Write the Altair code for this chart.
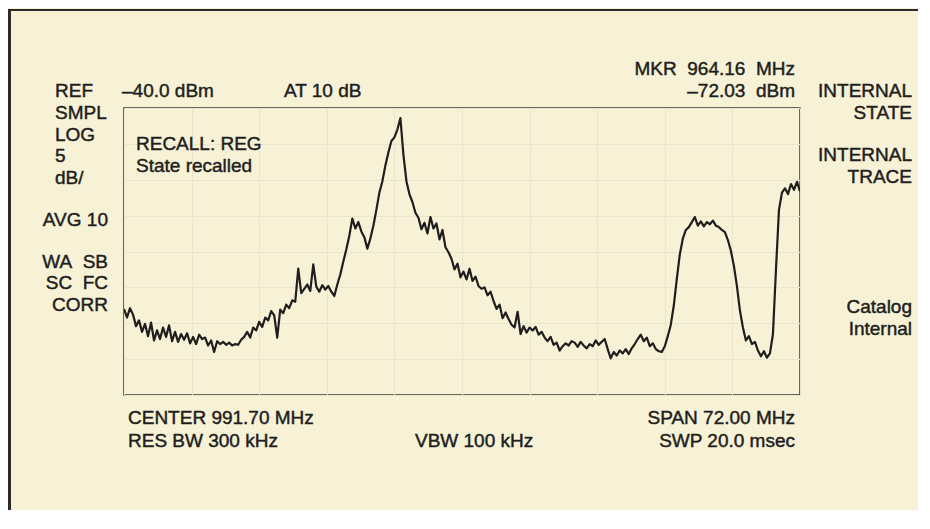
import altair as alt
import pandas as pd

# ---------------- instrument settings (from the screen) ----------------
CENTER_MHZ = 991.70
SPAN_MHZ = 72.00
REF_DBM = -40.0
DB_PER_DIV = 5
N_DIV_X = 10
N_DIV_Y = 8

# ---------------- trace (dBm), left to right ----------------
trace_dbm = [
    -68.0, -69.2, -67.9, -68.8, -70.4, -69.6, -71.2, -70.1, -71.8, -69.9,
    -72.4, -71.0, -72.2, -70.6, -71.9, -70.3, -72.5, -71.2, -72.6, -71.5,
    -72.3, -71.4, -72.8, -71.9, -72.9, -71.6, -72.2, -72.0, -73.1, -72.4,
    -74.0, -72.5, -72.9, -72.6, -73.0, -72.7, -73.1, -72.9, -73.0, -72.3,
    -71.9, -71.2, -72.0, -70.6, -71.0, -69.8, -70.5, -69.2, -69.6, -68.3,
    -68.9, -72.0, -68.1, -68.6, -67.4, -67.9, -66.8, -67.0, -62.4, -65.8,
    -65.2, -64.6, -65.5, -61.8, -64.9, -65.6, -64.7, -65.3, -64.8, -65.6,
    -66.2, -64.6, -63.2, -61.4, -59.7, -57.8, -55.4, -56.8, -55.9, -57.2,
    -58.0, -59.6, -58.2, -56.4, -54.2, -51.8, -50.2, -48.0, -46.2, -44.6,
    -44.1, -43.0, -41.4, -46.5, -50.2, -52.0, -53.1, -54.6, -55.3, -56.9,
    -56.0, -57.5, -55.2, -56.8, -56.1, -58.3, -57.0, -59.4, -60.1, -61.0,
    -62.5, -61.7, -63.6, -62.8, -63.9, -62.4, -64.1, -63.5, -64.8, -65.2,
    -65.0, -66.1, -65.6, -66.9, -68.0, -67.4, -69.3, -68.5, -69.4, -70.2,
    -70.6, -68.4, -71.5, -70.4, -71.3, -70.6, -71.0, -70.5, -71.6, -71.2,
    -72.0, -72.5, -71.9, -73.0, -72.7, -73.8, -73.2, -72.8, -73.1, -72.5,
    -72.7, -73.3, -72.6, -73.1, -73.5, -72.9, -73.2, -72.4, -73.0, -72.6,
    -72.2, -73.6, -74.9, -74.0, -74.5, -73.8, -74.2, -73.6, -74.3, -73.5,
    -72.9, -72.2, -71.6, -72.5, -72.0, -73.2, -72.8, -73.6, -73.9, -74.0,
    -73.2, -71.8, -70.2, -67.5, -63.8, -60.4, -58.2, -57.0, -56.6, -55.9,
    -55.2, -56.4, -55.8, -56.5, -55.9, -56.2, -55.7, -56.4, -56.6, -57.0,
    -57.3, -58.4, -59.9, -62.0, -64.8, -68.2, -70.6, -72.4, -71.8, -72.9,
    -72.6, -73.8, -74.6, -73.9, -74.8, -74.2, -71.5, -62.5, -54.2, -51.8,
    -51.2, -52.0, -50.6, -51.4, -50.3, -51.6,
]

# ---------------- screen annotations ----------------
left_upper = ["REF", "SMPL", "LOG", "5", "dB/"]
left_lower = ["AVG 10", "WA\u00a0 SB", "SC\u00a0 FC", "CORR"]
right_labels = ["INTERNAL", "STATE", "INTERNAL", "TRACE", "Catalog", "Internal"]
ref_text = "\u201340.0 dBm"
atten_text = "AT 10 dB"
marker_freq_text = "MKR\u00a0 964.16\u00a0 MHz"
marker_level_text = "\u201372.03\u00a0 dBm"
recall_texts = ["RECALL: REG", "State recalled"]
bottom_left = ["CENTER 991.70 MHz", "RES BW 300 kHz"]
bottom_mid = "VBW 100 kHz"
bottom_right = ["SPAN 72.00 MHz", "SWP 20.0 msec"]

# ---------------- derived data ----------------
start = CENTER_MHZ - SPAN_MHZ / 2
stop = CENTER_MHZ + SPAN_MHZ / 2
n = len(trace_dbm)
freqs = [start + i * SPAN_MHZ / (n - 1) for i in range(n)]
df = pd.DataFrame({"freq": freqs, "dbm": trace_dbm})
bottom_db = REF_DBM - DB_PER_DIV * N_DIV_Y
x_grid = [start + k * SPAN_MHZ / N_DIV_X for k in range(N_DIV_X + 1)]
y_grid = [REF_DBM - k * DB_PER_DIV for k in range(N_DIV_Y + 1)]

# ---------------- styling ----------------
BG = "#f7f2d6"
INK = "#1e1e1e"
GRID = "#ebe6cb"
FONT = "Liberation Sans"
FS = 19
W, H = 676, 287

one = pd.DataFrame({"k": [0]})


def label(txt, x, y, align="left"):
    return alt.Chart(one).mark_text(
        align=align, baseline="middle", font=FONT, fontSize=FS, color=INK,
        stroke=INK, strokeWidth=0.45
    ).encode(x=alt.value(x), y=alt.value(y), text=alt.value(txt))


axis_x = alt.Axis(values=x_grid, grid=True, gridColor=GRID, gridWidth=1,
                  labels=False, ticks=False, domain=False, title=None)
axis_y = alt.Axis(values=y_grid, grid=True, gridColor=GRID, gridWidth=1,
                  labels=False, ticks=False, domain=False, title=None)

trace = alt.Chart(df).mark_line(
    color=INK, strokeWidth=2.2, strokeJoin="round", clip=True
).encode(
    x=alt.X("freq:Q", scale=alt.Scale(domain=[start, stop], nice=False, zero=False), axis=axis_x),
    y=alt.Y("dbm:Q", scale=alt.Scale(domain=[bottom_db, REF_DBM], nice=False, zero=False), axis=axis_y),
)

layers = [trace]

# outer frame of the screen (thin filled bars)
layers.append(alt.Chart(one).mark_rect(color="#2a2a2a").encode(
    x=alt.value(-116), x2=alt.value(-113), y=alt.value(-99), y2=alt.value(420)))
layers.append(alt.Chart(one).mark_rect(color="#2a2a2a").encode(
    x=alt.value(-116), x2=alt.value(794), y=alt.value(-99), y2=alt.value(-97)))

# left column
for i, t in enumerate(left_upper):
    layers.append(label(t, -69, -17 + i * 21.8))
for i, t in enumerate(left_lower):
    layers.append(label(t, -16, 112 + i * 21.5 + (20 if i > 0 else 0), "right"))

# top line
layers.append(label(ref_text, -2, -17))
layers.append(label(atten_text, 160, -17))
layers.append(label(marker_freq_text, 671, -39, "right"))
layers.append(label(marker_level_text, 671, -17, "right"))

# right column
right_y = [-17, 5, 47, 69, 199, 221]
for t, yy in zip(right_labels, right_y):
    layers.append(label(t, 788, yy, "right"))

# inside the graticule
for i, t in enumerate(recall_texts):
    layers.append(label(t, 12, 36 + i * 22))

# bottom
for i, t in enumerate(bottom_left):
    layers.append(label(t, 4, 310 + i * 23))
layers.append(label(bottom_mid, 291, 333))
for i, t in enumerate(bottom_right):
    layers.append(label(t, 671, 310 + i * 23, "right"))

chart = alt.layer(*layers).properties(
    width=W,
    height=H,
    autosize=alt.AutoSizeParams(type="none"),
    padding={"left": 116, "top": 100, "right": 118, "bottom": 115},
    background=BG,
).configure_view(stroke="#3a3a3a", strokeWidth=1.5)

chart.save("out.html", embed_options={"renderer": "svg", "actions": False})
